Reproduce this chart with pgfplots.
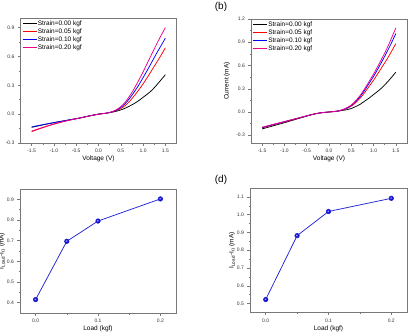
\documentclass[border=0pt]{standalone}
\usepackage{fontspec}
\setmainfont{Liberation Sans}
\usepackage{pgfplots}
\pgfplotsset{compat=1.18}
\definecolor{frame}{RGB}{120,120,120}
\definecolor{ptline}{RGB}{35,35,215}

\pgfplotsset{
  panel/.style={
    scale only axis,
    axis line style={frame, line width=0.6pt},
    tick style={frame, line width=0.5pt},
    tick align=outside,
    xtick pos=left, ytick pos=left,
    major tick length=2.6pt, minor tick length=1.5pt,
    minor x tick num=1, minor y tick num=1,
    tick label style={font=\fontsize{5}{6}\selectfont, text=black!80},
    /pgf/number format/assume math mode=true,
    /pgf/number format/.cd, fixed, fixed zerofill, precision=1, /pgfplots/.cd,
    label style={font=\fontsize{6.5}{7.5}\selectfont},
    xlabel style={at={(axis description cs:0.5,-0.13)}, anchor=center},
  },
  ivpanel/.style={
    panel,
    xmin=-1.75, xmax=1.75,
    xtick={-1.5,-1,...,1.5},
    xlabel={Voltage (V)},
    legend style={at={(0,1)}, anchor=north west, xshift=1.5pt, yshift=-1.2pt,
      draw=none, fill=none, inner sep=0pt,
      nodes={inner sep=0.9pt, font=\fontsize{6.5}{7}\selectfont}},
    legend cell align=left,
    legend image code/.code={\draw[##1] (0pt,0pt) -- (14pt,0pt);},
    every axis plot/.append style={line width=0.75pt, smooth},
  },
  loadpanel/.style={
    panel,
    xmin=-0.025, xmax=0.225,
    xtick={0,0.1,0.2},
    xlabel={Load (kgf)},
    ylabel={I$_{\mathrm{Load}}$-I$_{0}$ (mA)},
    ylabel style={at={(axis description cs:-0.115,0.5)}, anchor=center, rotate=0},
  },
  loadplot/.style={ptline, line width=0.75pt, mark=ball, mark size=2.2pt,
    mark options={ball color=blue}},
}

\begin{document}
\begin{tikzpicture}
\clip (0,0) rectangle (408pt,333pt);

% (a) I-V curves
\begin{axis}[ivpanel,
  at={(20.5pt,190pt)}, anchor=south west, width=156pt, height=125pt,
  ymin=-0.3, ymax=1.0, ytick={-0.3,0,0.3,0.6,0.9},
]
\addplot[black] coordinates {
(-1.5,-0.137) (-1.4,-0.127) (-1.3,-0.117) (-1.2,-0.107) (-1.1,-0.098) (-1.0,-0.089)
(-0.9,-0.080) (-0.8,-0.072) (-0.7,-0.063) (-0.6,-0.055) (-0.5,-0.047) (-0.4,-0.038)
(-0.3,-0.028) (-0.2,-0.018) (-0.1,-0.009) (0,0) (0.1,0.006) (0.2,0.012)
(0.3,0.020) (0.4,0.030) (0.5,0.044) (0.6,0.062) (0.7,0.085) (0.8,0.110)
(0.9,0.140) (1.0,0.175) (1.1,0.210) (1.2,0.250) (1.3,0.300) (1.4,0.355) (1.5,0.410)};
\addlegendentry{Strain=0.00 kgf}
\addplot[red] coordinates {
(-1.5,-0.182) (-1.4,-0.165) (-1.3,-0.149) (-1.2,-0.133) (-1.1,-0.118) (-1.0,-0.104)
(-0.9,-0.091) (-0.8,-0.079) (-0.7,-0.068) (-0.6,-0.057) (-0.5,-0.047) (-0.4,-0.038)
(-0.3,-0.028) (-0.2,-0.018) (-0.1,-0.009) (0,0) (0.1,0.006) (0.2,0.012)
(0.3,0.022) (0.4,0.036) (0.5,0.058) (0.6,0.090) (0.7,0.135) (0.8,0.190)
(0.9,0.250) (1.0,0.315) (1.1,0.385) (1.2,0.460) (1.3,0.535) (1.4,0.610) (1.5,0.690)};
\addlegendentry{Strain=0.05 kgf}
\addplot[blue] coordinates {
(-1.5,-0.133) (-1.4,-0.123) (-1.3,-0.114) (-1.2,-0.105) (-1.1,-0.096) (-1.0,-0.087)
(-0.9,-0.079) (-0.8,-0.071) (-0.7,-0.063) (-0.6,-0.055) (-0.5,-0.047) (-0.4,-0.038)
(-0.3,-0.028) (-0.2,-0.018) (-0.1,-0.009) (0,0) (0.1,0.006) (0.2,0.012)
(0.3,0.024) (0.4,0.040) (0.5,0.070) (0.6,0.110) (0.7,0.165) (0.8,0.230)
(0.9,0.300) (1.0,0.380) (1.1,0.460) (1.2,0.545) (1.3,0.630) (1.4,0.710) (1.5,0.790)};
\addlegendentry{Strain=0.10 kgf}
\addplot[magenta] coordinates {
(-1.5,-0.176) (-1.4,-0.160) (-1.3,-0.145) (-1.2,-0.130) (-1.1,-0.116) (-1.0,-0.102)
(-0.9,-0.090) (-0.8,-0.078) (-0.7,-0.067) (-0.6,-0.057) (-0.5,-0.047) (-0.4,-0.038)
(-0.3,-0.028) (-0.2,-0.018) (-0.1,-0.009) (0,0) (0.1,0.006) (0.2,0.012)
(0.3,0.026) (0.4,0.046) (0.5,0.078) (0.6,0.125) (0.7,0.190) (0.8,0.265)
(0.9,0.350) (1.0,0.440) (1.1,0.535) (1.2,0.630) (1.3,0.725) (1.4,0.815) (1.5,0.900)};
\addlegendentry{Strain=0.20 kgf}
\end{axis}

% (b) I-V curves
\begin{axis}[ivpanel,
  at={(251pt,190pt)}, anchor=south west, width=156pt, height=124pt,
  ymin=-0.4, ymax=1.2, ytick={-0.3,0,0.3,0.6,0.9,1.2},
  ylabel={Current (mA)},
  ylabel style={at={(axis description cs:-0.155,0.5)}, anchor=center},
]
\addplot[black] coordinates {
(-1.5,-0.218) (-1.4,-0.202) (-1.3,-0.186) (-1.2,-0.170) (-1.1,-0.154) (-1.0,-0.138)
(-0.9,-0.121) (-0.8,-0.104) (-0.7,-0.087) (-0.6,-0.070) (-0.5,-0.053) (-0.4,-0.037)
(-0.3,-0.023) (-0.2,-0.012) (-0.1,-0.005) (0,0) (0.1,0.005) (0.2,0.011)
(0.3,0.020) (0.4,0.030) (0.5,0.045) (0.6,0.070) (0.7,0.100) (0.8,0.140)
(0.9,0.180) (1.0,0.225) (1.1,0.270) (1.2,0.320) (1.3,0.380) (1.4,0.445) (1.5,0.514)};
\addlegendentry{Strain=0.00 kgf}
\addplot[red] coordinates {
(-1.5,-0.205) (-1.4,-0.190) (-1.3,-0.174) (-1.2,-0.159) (-1.1,-0.144) (-1.0,-0.129)
(-0.9,-0.113) (-0.8,-0.098) (-0.7,-0.082) (-0.6,-0.066) (-0.5,-0.050) (-0.4,-0.035)
(-0.3,-0.022) (-0.2,-0.012) (-0.1,-0.005) (0,0) (0.1,0.005) (0.2,0.012)
(0.3,0.025) (0.4,0.045) (0.5,0.075) (0.6,0.120) (0.7,0.180) (0.8,0.250)
(0.9,0.330) (1.0,0.410) (1.1,0.500) (1.2,0.590) (1.3,0.680) (1.4,0.780) (1.5,0.883)};
\addlegendentry{Strain=0.05 kgf}
\addplot[blue] coordinates {
(-1.5,-0.200) (-1.4,-0.185) (-1.3,-0.170) (-1.2,-0.155) (-1.1,-0.140) (-1.0,-0.125)
(-0.9,-0.110) (-0.8,-0.095) (-0.7,-0.080) (-0.6,-0.065) (-0.5,-0.050) (-0.4,-0.035)
(-0.3,-0.022) (-0.2,-0.012) (-0.1,-0.005) (0,0) (0.1,0.006) (0.2,0.013)
(0.3,0.028) (0.4,0.050) (0.5,0.085) (0.6,0.135) (0.7,0.200) (0.8,0.280)
(0.9,0.370) (1.0,0.460) (1.1,0.560) (1.2,0.665) (1.3,0.775) (1.4,0.890) (1.5,1.013)};
\addlegendentry{Strain=0.10 kgf}
\addplot[magenta] coordinates {
(-1.5,-0.196) (-1.4,-0.182) (-1.3,-0.167) (-1.2,-0.152) (-1.1,-0.138) (-1.0,-0.123)
(-0.9,-0.108) (-0.8,-0.094) (-0.7,-0.079) (-0.6,-0.064) (-0.5,-0.049) (-0.4,-0.035)
(-0.3,-0.022) (-0.2,-0.012) (-0.1,-0.005) (0,0) (0.1,0.006) (0.2,0.013)
(0.3,0.030) (0.4,0.055) (0.5,0.090) (0.6,0.145) (0.7,0.215) (0.8,0.300)
(0.9,0.395) (1.0,0.490) (1.1,0.595) (1.2,0.705) (1.3,0.820) (1.4,0.950) (1.5,1.086)};
\addlegendentry{Strain=0.20 kgf}
\end{axis}

% (c) current change vs load
\begin{axis}[loadpanel,
  at={(20pt,20pt)}, anchor=south west, width=156pt, height=124pt,
  ymin=0.35, ymax=0.95, ytick={0.4,0.5,...,0.9},
]
\addplot[loadplot] coordinates {(0,0.415) (0.05,0.697) (0.1,0.795) (0.2,0.902)};
\end{axis}

% (d) current change vs load
\begin{axis}[loadpanel,
  at={(250pt,20.5pt)}, anchor=south west, width=157pt, height=124.5pt,
  ymin=0.45, ymax=1.15, ytick={0.5,0.6,...,1.1},
]
\addplot[loadplot] coordinates {(0,0.523) (0.05,0.882) (0.1,1.018) (0.2,1.092)};
\end{axis}

\node[font=\fontsize{10}{12}\selectfont] at (221pt,326pt) {(b)};
\node[font=\fontsize{10}{12}\selectfont] at (221pt,153pt) {(d)};
\end{tikzpicture}
\end{document}
